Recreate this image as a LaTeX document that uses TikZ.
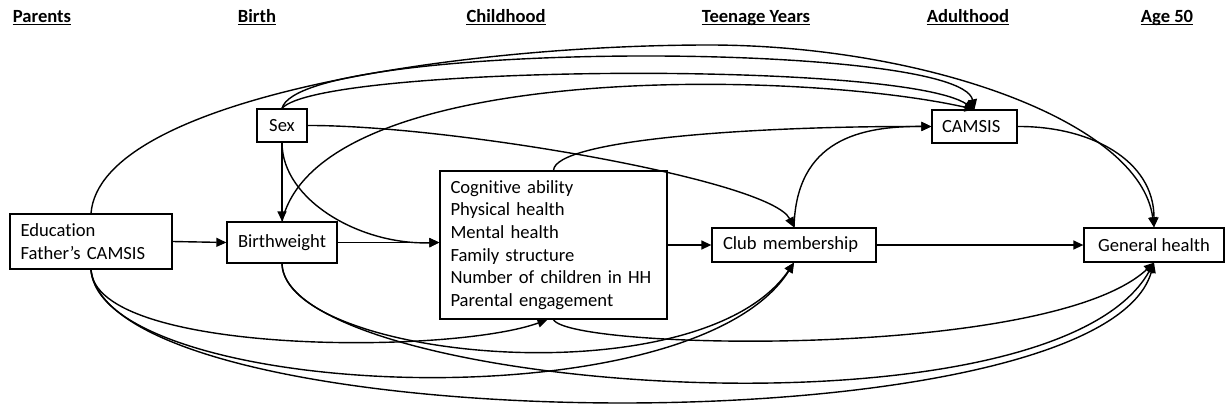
\documentclass[tikz,border=0pt]{standalone}
\usepackage{fontspec}
\setmainfont{Carlito}[Ligatures=NoCommon]
\usetikzlibrary{arrows.meta}
\begin{document}
\begin{tikzpicture}[x=1pt,y=-1pt,
  box/.style={draw, line width=1.3pt, inner sep=0pt, font=\fontsize{18.6}{22.7}\selectfont},
  hdr/.style={font=\bfseries\fontsize{18.6}{22.7}\selectfont, anchor=base, inner sep=0pt},
  conn/.style={line width=1.4pt, -{Triangle[length=10pt,width=9pt]}},
  uline/.style={line width=1.2pt}
]
\fill[white] (0,0) rectangle (1225,410);
\useasboundingbox (0,0) rectangle (1225,410);

% headings
\node[hdr] (hP) at (42,22) {Parents};
\node[hdr] (hB) at (257,22) {Birth};
\node[hdr] (hC) at (506,22) {Childhood};
\node[hdr] (hT) at (756,22) {Teenage Years};
\node[hdr] (hA) at (968,22) {Adulthood};
\node[hdr] (hF) at (1167,22) {Age 50};
\foreach \h in {hP,hB,hC,hT,hA,hF}
  \draw[uline] ([yshift=-2.5pt]\h.base west) -- ([yshift=-2.5pt]\h.base east);

% nodes
\node[box, minimum width=162pt, minimum height=55pt, align=left, text width=141pt] (edu) at (91,241.5) {Education\\Father’s CAMSIS};
\node[box, minimum width=110pt, minimum height=41pt] (bw) at (282,242.5) {Birthweight};
\node[box, minimum width=50pt, minimum height=33pt] (sex) at (282,125.5) {Sex};
\node[box, minimum width=227pt, minimum height=148pt, align=left, text width=206pt] (cog) at (553.5,245) {Cognitive ability\\Physical health\\Mental health\\Family structure\\Number of children in HH\\Parental engagement};
\node[box, minimum width=164pt, minimum height=34pt, align=left, text width=142pt] (club) at (794,245) {Club membership};
\node[box, minimum width=85pt, minimum height=33pt, align=left, text width=65pt] (camsis) at (974.5,126.5) {CAMSIS};
\node[box, minimum width=140pt, minimum height=34pt] (gh) at (1154,245) {General health};

\coordinate (peak) at (709,45);

% straight connectors
\draw[conn] (edu.east) -- (bw.west);
\draw[conn] (bw.east) -- (bw.east -| cog.west);
\draw[conn] (cog.east) -- (club.west);
\draw[conn] (club.east) -- (gh.west);
\draw[conn] (sex.south) -- (bw.north);

% upper curves
\draw[conn] (edu.north) .. controls (100,100) and (450,45) .. (peak) .. controls (920,45) and (1140,120) .. (gh.north);
\draw[conn] (sex.north) .. controls (300,40) and (960,40) .. (camsis.north);
\draw[conn] (sex.north) .. controls (320,65) and (900,60) .. (camsis.north);
\draw[conn] (bw.north) .. controls (320,60) and (800,70) .. (camsis.north);
\draw[conn] (sex.east) .. controls (450,125) and (770,180) .. (club.north);
\draw[conn] (sex.south) .. controls (282,200) and (360,245) .. (bw.east -| cog.west);
\draw[conn] (cog.north) .. controls (555,140) and (750,126) .. (camsis.west);
\draw[conn] (club.north) .. controls (796,140) and (860,126) .. (camsis.west);
\draw[conn] (camsis.east) .. controls (1090,126) and (1154,160) .. (gh.north);

% lower curves
\draw[conn] (edu.south) .. controls (95,355) and (450,355) .. ([xshift=-6pt]cog.south);
\draw[conn] (edu.south) .. controls (100,398) and (690,428) .. (club.south);
\draw[conn] (edu.south) .. controls (110,442) and (1100,452) .. (gh.south);
\draw[conn] (bw.south) .. controls (285,360) and (700,400) .. (club.south);
\draw[conn] (bw.south) .. controls (285,390) and (1050,450) .. (gh.south);
\draw[conn] (cog.south) .. controls (570,350) and (1050,360) .. (gh.south);
\end{tikzpicture}
\end{document}
